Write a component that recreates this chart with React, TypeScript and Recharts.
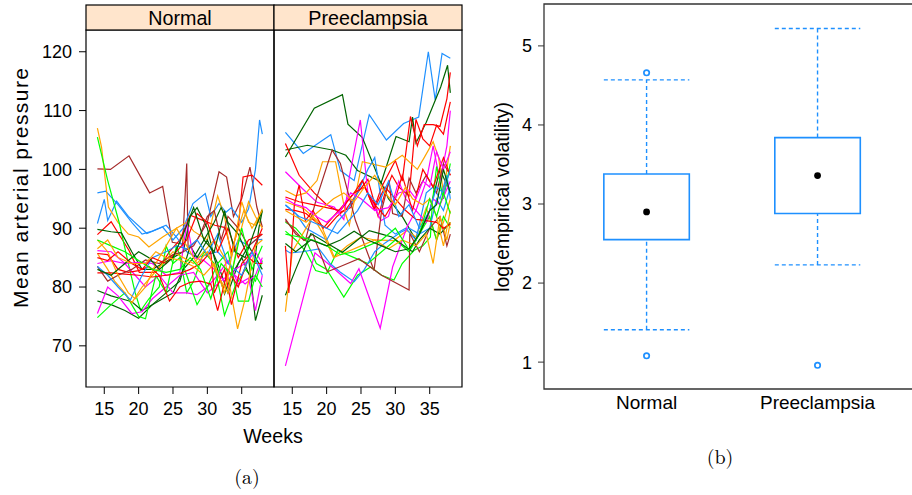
import { ComposedChart, Line, LineChart, ReferenceArea, ReferenceLine, Scatter, XAxis, YAxis } from "recharts";

const BLUE = "#1E90FF";
const ORANGE = "#FFA500";
const GREEN = "#00FF00";
const DKGREEN = "#006400";
const RED = "#FF0000";
const BROWN = "#A52A2A";
const MAGENTA = "#FF00FF";

const panels = ["Normal", "Preeclampsia"];
const weekTicks = [15, 20, 25, 30, 35];
const mapTicks = [70, 80, 90, 100, 110, 120];

// one trajectory per woman: [week, mean arterial pressure]
const normalColors = [BROWN, RED, BLUE, BLUE, ORANGE, GREEN, DKGREEN, DKGREEN, DKGREEN, MAGENTA, MAGENTA, MAGENTA, GREEN, ORANGE, RED, RED, BROWN, BLUE, ORANGE, RED, DKGREEN, GREEN, ORANGE];
const normalSeries: number[][][] = [
  [[14, 100.1], [15.9, 100], [18.6, 102.3], [21.6, 96], [23.5, 97.1], [24.9, 87.6], [26.4, 87.3], [27, 101], [27.2, 86.5], [28.5, 88], [30, 91], [31.7, 99.6], [32.8, 98.7], [33.8, 92], [35, 95], [36.2, 100.4], [37.2, 93.6], [38, 90.2]],
  [[14, 88.9], [16, 91.1], [18.6, 86.2], [20.1, 82.5], [22.5, 82.5], [24.5, 86], [26, 88], [27.5, 92.2], [29, 91.5], [31.1, 90.5], [32.6, 90.1], [33.5, 86], [34.5, 90], [35.2, 98.7], [36.5, 99], [38, 97.3]],
  [[14, 90.8], [15, 94.9], [15.5, 91.3], [16.8, 94.6], [18.5, 92], [21.2, 89.1], [23.5, 90.2], [25, 88], [26.5, 90], [27.9, 94.2], [29.7, 95.9], [30.5, 92], [31.7, 94.2], [32.7, 92.7], [33.5, 93.5], [35, 91], [36, 93.3], [37, 100], [37.6, 108.4], [38, 106]],
  [[14, 96], [15.2, 96.3], [17, 94], [19, 91], [20.5, 89], [22, 89.5], [24, 90.5], [25.5, 88.5], [27, 86], [28.5, 85], [30, 85.5], [31.5, 86], [33, 84], [34.5, 88], [36, 87], [37, 88], [38, 88.1]],
  [[14, 107], [14.6, 103.8], [15.6, 93.6], [17, 91], [18.5, 89], [20, 88.5], [21.5, 86.8], [23.5, 88.5], [25.5, 90], [27, 91], [28, 89.5], [30, 88], [31.5, 95.5], [32.5, 92], [33.5, 85], [35, 94.5], [36, 91], [37, 90.5], [38, 93.3]],
  [[14, 105.5], [15.5, 98.1], [17.2, 90.8], [18.5, 84], [19.5, 79], [20.3, 76], [21.5, 78], [23, 80], [24, 87], [25, 84], [26, 85], [27, 79], [28, 81], [29.5, 86], [31, 84], [32.5, 75.2], [34, 80], [35.5, 83], [37, 81], [38, 84.5]],
  [[14, 89.8], [16, 89.4], [17.5, 89.2], [19, 86], [20.5, 83], [22, 83], [23.5, 84], [25, 85], [26.5, 86], [27.5, 92], [28.5, 93.5], [30, 90], [31, 85], [32.5, 78.8], [33.5, 82], [35, 85], [36.5, 81], [37.5, 90], [38, 93]],
  [[14, 79.4], [16, 78.5], [17.5, 78], [19, 77.5], [20.5, 76], [22, 77], [23.5, 78], [25, 79], [26.5, 83], [28, 85], [29.5, 88], [31, 91], [32, 93.5], [33, 91], [34.5, 89], [36, 85], [37, 74.3], [38, 78.6]],
  [[14, 77.6], [16, 77], [18, 76], [20, 74.7], [22, 77], [24, 79], [26, 81], [27.5, 87], [28.5, 85], [30, 88], [31.5, 84], [33, 79], [34.5, 84], [36, 87], [38, 83]],
  [[14, 86.2], [16, 86], [18, 84], [20, 84.2], [22, 84], [24, 82], [26, 82.5], [27, 91], [28, 85], [29.5, 84.5], [31, 83], [32.5, 81], [34, 82], [35.5, 80.5], [37, 82], [38, 85]],
  [[14, 84], [16, 84.5], [18, 84], [19.5, 82], [21, 80], [23, 82], [25, 79], [27, 79], [28.5, 78.7], [30, 80], [31.5, 82], [33, 84.5], [34.5, 80.5], [36, 81.5], [37, 76], [38, 82]],
  [[14, 75.5], [15.5, 80], [17, 78.5], [19, 75.5], [20.5, 75.8], [22, 78], [24, 80], [26, 82], [28, 82.5], [30, 79], [32, 81], [34, 83], [35.5, 84], [37, 86], [38, 84]],
  [[14, 74.8], [16, 77], [18, 79], [20, 75], [21, 74.6], [22.5, 82], [24, 79], [25.5, 87], [27, 82], [28.5, 77], [30, 80], [31.5, 84], [33, 86], [34.5, 77.6], [36, 77.6], [37, 82], [38, 80]],
  [[14, 85.7], [15.5, 83], [16.5, 81], [18, 79], [19, 77.3], [20.5, 80], [22, 82], [23.5, 84], [25, 86], [26.5, 85], [28, 84], [29.5, 86], [31, 88], [32.5, 85], [34.4, 72.9], [35.5, 78], [37, 87], [38, 88]],
  [[14, 85.7], [15.5, 85.5], [17, 83], [18.5, 82.5], [20, 82.8], [21.5, 83.5], [23, 82], [24.5, 77.6], [26, 80], [27.5, 80.8], [29, 81], [30.5, 80.5], [31.5, 76], [33, 83], [34.5, 80], [36, 85], [37, 84], [38, 84]],
  [[14, 82.4], [16, 82.4], [18, 82.2], [20, 82], [22, 81.7], [24, 82], [26, 82.3], [27.5, 83], [29, 84], [30.5, 86], [31, 79], [32.5, 83], [33.5, 77], [35, 84], [36.5, 86], [38, 90]],
  [[14, 83.5], [15.5, 81], [17, 82], [19, 83], [21, 84.6], [23, 84], [25, 85.5], [26.5, 86], [28, 87], [29, 89], [30, 92], [31, 93], [32, 88], [33, 92], [34.5, 90], [36, 87], [38, 89]],
  [[14, 83.5], [15.5, 82], [17, 80], [18.8, 77.8], [20.5, 82], [22, 85], [24, 86], [25.5, 87], [27, 86.5], [28.5, 88], [30, 85.5], [31.5, 89], [33, 84], [35, 82], [36.5, 86], [38, 82]],
  [[14, 88], [15.5, 86], [17, 82], [18.5, 79], [19.5, 78], [21, 80], [22.5, 84], [24, 87], [25.5, 90], [27, 87], [28.5, 84], [30, 86], [31.5, 82], [33, 79], [34.5, 88], [36, 94.5], [37, 92], [38, 90]],
  [[14, 85], [15.5, 84.5], [17, 86], [19, 84], [20.5, 83], [22, 85], [24, 84], [25.5, 86], [27, 88], [28.5, 92.5], [30, 91], [31.5, 86], [33, 90], [34.5, 85], [36, 88], [38, 89]],
  [[14, 83], [16, 82], [18, 84], [20, 86], [21.5, 85], [23, 83], [25, 85], [26.5, 89], [28, 93.5], [29.5, 88], [31, 86], [32.5, 93], [34, 86], [35.5, 85], [37, 90], [38, 93]],
  [[14, 88], [16, 87], [18, 86], [20, 84.5], [22, 83], [24, 82.5], [26, 83], [27.5, 85], [29, 83], [30.5, 78], [32, 84], [33.5, 82], [35, 90], [36.5, 83], [38, 87]],
  [[14, 86.5], [15.5, 88], [17, 85], [19, 84], [21, 84], [22.5, 86], [24, 85], [26, 84.6], [28, 83.5], [29.5, 82], [31, 84], [32.5, 79], [34, 88], [35.3, 93], [36.5, 90], [38, 93]],
];

const preColors = [BLUE, DKGREEN, DKGREEN, RED, RED, MAGENTA, ORANGE, ORANGE, BLUE, BROWN, GREEN, GREEN, BLUE, MAGENTA, BROWN, DKGREEN, ORANGE, RED, RED, MAGENTA, BLUE, ORANGE, GREEN, DKGREEN];
const preSeries: number[][][] = [
  [[14, 106.3], [16.6, 102.7], [20.6, 105.9], [22, 99.8], [24, 98.1], [26.2, 109.3], [28.7, 105], [31.2, 107.8], [33.4, 108.9], [34.8, 120], [35.8, 111.8], [36.8, 119.7], [38, 118.9]],
  [[14, 102.1], [18.2, 110.4], [22.3, 112.7], [23.1, 107.7], [25.2, 105.4], [27.9, 97.6], [30.1, 105.6], [32, 104.7], [32.5, 108.9], [33, 104.5], [34.5, 108], [36.6, 114], [37.6, 117.7], [38, 113]],
  [[14, 103.3], [17.2, 104.1], [20.8, 103.3], [22.8, 102.4], [24.5, 99.8], [27.9, 97.9], [29, 95], [31, 92], [33, 88], [35, 93], [36.5, 100], [38, 96]],
  [[14, 104.4], [16, 99], [18.2, 96], [20, 94], [22, 92.7], [23.5, 93.5], [25.2, 98.1], [26.9, 93.3], [28, 97], [30, 101.5], [31, 98], [32.2, 109], [33.2, 104], [34.2, 107.6], [35.5, 107.6], [36.5, 107.3], [37.5, 112], [38, 116.5]],
  [[14, 93.2], [15.5, 93], [17, 92.5], [18.5, 91], [20, 90], [21.5, 92], [23, 93.5], [24.5, 96], [26, 98.3], [27.5, 92], [28.5, 96], [29.5, 99], [30.5, 97], [32, 95.5], [33, 108.5], [34, 105.2], [35, 104], [36, 107.5], [37, 106], [38, 111.5]],
  [[14, 99.6], [16.5, 96.7], [18.6, 94.4], [21.1, 93.6], [22.5, 91.5], [23.3, 98.7], [24.9, 108.4], [26, 96], [27.9, 91.3], [29, 92], [30.5, 98], [31.5, 95], [33, 93], [34.5, 98], [35.5, 104], [36.5, 98], [37.5, 104], [38, 110]],
  [[14, 96.4], [15.5, 95.5], [17, 96], [18.6, 98.1], [19.4, 101.3], [21.3, 101.3], [22.8, 92.2], [23.3, 90.5], [25.2, 101.3], [28.6, 100.4], [31, 102.4], [33.2, 100], [34.2, 102], [35.5, 104.7], [36.3, 102], [37, 96], [38, 104]],
  [[14, 94.5], [16.7, 93.3], [19.1, 90.8], [21.1, 85.1], [23, 87], [25, 88.5], [27, 88], [29.8, 87.9], [31.7, 89.6], [33, 88.5], [34.5, 93.5], [36, 88], [37, 91], [38, 95]],
  [[14, 94], [15.5, 92.5], [17, 90], [18.5, 89], [20, 88], [21.5, 91], [23, 93], [24.5, 96], [26, 100], [27, 102], [28.5, 90.5], [30, 89], [31.5, 90], [33, 88], [34.5, 96], [35.5, 97], [36.5, 95], [37.5, 99], [38, 95]],
  [[14, 91.6], [15.5, 89], [16.9, 87.9], [18.5, 95], [20.8, 103.3], [22, 101], [24.2, 91.3], [26.9, 82.8], [28, 93], [29.1, 98.1], [29.6, 92.5], [31, 92], [32, 98.5], [33, 96], [34.5, 99], [36, 96], [37, 101], [38, 99]],
  [[14, 91], [15.5, 90], [17, 88], [18.5, 84], [20, 83], [22.5, 78.3], [24.5, 82], [26.4, 83.4], [28, 82], [29.8, 81.2], [31, 84], [32.7, 86.2], [34, 87], [35.1, 88.5], [35.4, 94.5], [36, 100.5], [37, 95], [38, 101]],
  [[14, 89.5], [15.5, 88], [17, 86], [18.4, 82.8], [20, 82.3], [21.6, 86.2], [24, 85], [26, 84], [28, 86], [30, 88], [32, 86], [33.5, 89], [35, 92], [36, 88], [37, 92], [38, 90]],
  [[14, 86.3], [14.7, 85.8], [16.5, 86], [18.9, 86.5], [20.5, 84], [22, 82.5], [24, 80.9], [25.5, 83], [27, 86], [28.5, 87.5], [30.8, 89.3], [32, 90], [33.5, 89], [35, 90], [36, 95], [37, 93], [38, 97]],
  [[14, 66.6], [18.3, 85.8], [20.8, 83.4], [23.5, 80.6], [24.7, 83.1], [27.8, 73], [29.6, 83.4], [31.7, 90.2], [33, 93], [34.5, 91], [35.5, 95], [36.5, 94], [38, 98]],
  [[14, 91.3], [16.7, 87.9], [18, 89], [20.1, 82.6], [22, 83.5], [24.7, 84.8], [28, 82], [32, 79.5], [32.1, 89.1], [33.5, 86], [35, 90], [36.5, 92], [37.5, 87], [38, 89]],
  [[14, 78.6], [15.5, 83], [17.7, 89.1], [20, 87.5], [22.3, 85.9], [24.5, 88], [26.2, 89.6], [28, 89], [29.5, 88.5], [31.5, 86.8], [32.5, 86], [33.5, 88], [35, 90], [36.5, 89], [38, 91]],
  [[14, 75.8], [15, 86], [16.5, 89], [18, 92], [19.5, 89], [21, 85], [23, 86], [25, 87], [27, 88], [29, 86.5], [31, 88], [33, 87], [34.5, 89], [35.5, 84], [36.5, 92], [37.5, 88], [38, 91]],
  [[14, 87], [14.5, 79], [15.3, 94], [16, 97.3], [16.9, 91.3], [18, 93], [19.5, 90], [21, 92], [22.5, 94], [24, 96], [25.5, 97], [27, 94], [28.5, 92], [30, 95], [31.5, 93], [33, 91.5], [34.5, 91.3], [36, 91], [37, 90], [38, 90.7]],
  [[14, 95.3], [16, 94.5], [18, 94], [20, 93.5], [22, 93], [24, 96], [25.2, 98.1], [26.9, 93.3], [28.5, 97], [30, 95], [31, 99], [32.5, 93], [34, 100], [35.5, 97], [37, 102], [38, 99]],
  [[14, 95], [15.5, 94], [17, 93.5], [18.5, 92], [20, 91], [22, 93], [23.5, 96], [25, 95], [27, 93], [29, 93.5], [30.5, 96], [32, 96.5], [33, 95], [34, 98], [35, 97], [36, 103], [37, 100], [38, 103]],
  [[14, 93.9], [16, 92], [18, 91], [20, 90], [21.6, 89.1], [23, 91], [24.5, 93], [26, 96], [27.5, 94], [29, 98], [30.5, 92], [32, 94], [33.5, 90], [35, 93], [36, 97], [37, 96], [38, 100]],
  [[14, 93], [15.5, 92], [17, 91], [19, 93], [21, 95], [22.5, 96], [24, 94.5], [25.5, 97], [27, 99], [28.5, 96], [30, 94], [31.5, 97], [32.5, 95], [34, 94], [35, 95], [36, 92], [37, 87], [38, 93]],
  [[14, 89], [16, 88.5], [18, 88], [20, 87], [22, 85.5], [24, 86], [26, 87], [28, 88], [30, 90], [32, 86.3], [33.5, 89], [35, 95], [36, 92], [37, 96], [38, 92.5]],
  [[14, 87.4], [15.5, 86], [17.7, 88], [20, 87], [22, 88], [24, 89.5], [26, 88], [28, 87], [30, 86], [32, 86.5], [33.5, 89], [35, 93], [36, 94], [37, 100], [38, 96]],
];

// box plot summary of log(empirical volatility)
const groups = ["Normal", "Preeclampsia"];
const boxQ1 = [2.55, 2.88];
const boxMedian = [2.9, 3.36];
const boxQ3 = [3.38, 3.84];
const whiskerLow = [1.41, 2.23];
const whiskerHigh = [4.57, 5.22];
const outlierGroup = [1, 1, 2];
const outlierValue = [4.66, 1.08, 0.96];
const volTicks = [1, 2, 3, 4, 5];

const W = 912;
const H = 495;
const FONT = "'Liberation Sans', Arial, Helvetica, sans-serif";
const weekDomain = [12.34, 39.7];
const mapDomain = [63, 123.7];
const PANEL_W = 188;

function Panel({ series, colors, left, showY }: { series: number[][][]; colors: string[]; left: number; showY: boolean }) {
  return (
    <div style={{ position: "absolute", left: 0, top: 0 }}>
      <LineChart
        width={W}
        height={H}
        style={{ fontFamily: FONT }}
        margin={{ top: 30, left: showY ? left - 60 : left, right: W - left - PANEL_W, bottom: H - 387 - 30 }}
      >
        <XAxis
          dataKey="w"
          type="number"
          domain={weekDomain}
          allowDataOverflow
          ticks={weekTicks}
          interval={0}
          axisLine={false}
          tickLine={{ stroke: "#000" }}
          tickSize={7}
          tickMargin={8}
          tick={{ fontSize: 18, fill: "#000" }}
        />
        <YAxis
          dataKey="v"
          type="number"
          domain={mapDomain}
          allowDataOverflow
          ticks={mapTicks}
          interval={0}
          hide={!showY}
          width={60}
          axisLine={false}
          tickLine={{ stroke: "#000" }}
          tickSize={7}
          tickMargin={7}
          tick={{ fontSize: 18, fill: "#000" }}
        />
        {series.map((pts, i) => (
          <Line
            key={i}
            data={pts.map(([w, v]) => ({ w, v }))}
            dataKey="v"
            type="linear"
            stroke={colors[i]}
            strokeWidth={1.2}
            dot={false}
            activeDot={false}
            isAnimationActive={false}
          />
        ))}
        <ReferenceArea
          x1={weekDomain[0]}
          x2={weekDomain[1]}
          y1={mapDomain[0]}
          y2={mapDomain[1]}
          fill="none"
          fillOpacity={0}
          stroke="#000"
          strokeWidth={1.2}
          ifOverflow="visible"
        />
      </LineChart>
    </div>
  );
}

const volDomain = [0.66, 5.53];
const groupDomain = [0.4, 2.57];
const HALF = 0.25;

function BoxPanel() {
  const medians = groups.map((_, i) => ({ x: i + 1, y: boxMedian[i] }));
  const outliers = outlierGroup.map((g, i) => ({ x: g, y: outlierValue[i] }));
  return (
    <div style={{ position: "absolute", left: 0, top: 0 }}>
      <ComposedChart
        width={920}
        height={H}
        style={{ fontFamily: FONT }}
        margin={{ top: 4, left: 544 - 60, right: 5, bottom: H - 389 - 30 }}
      >
        <XAxis
          dataKey="x"
          type="number"
          domain={groupDomain}
          allowDataOverflow
          ticks={[1, 2]}
          interval={0}
          tickFormatter={(v: number) => groups[v - 1]}
          axisLine={false}
          tickLine={false}
          tickSize={0}
          tickMargin={7}
          tick={{ fontSize: 19, fill: "#000" }}
        />
        <YAxis
          dataKey="y"
          type="number"
          domain={volDomain}
          allowDataOverflow
          ticks={volTicks}
          interval={0}
          width={60}
          axisLine={false}
          tickLine={{ stroke: "#333" }}
          tickSize={6}
          tickMargin={6}
          tick={{ fontSize: 18, fill: "#000" }}
        />
        <ReferenceArea
          x1={groupDomain[0]}
          x2={groupDomain[1]}
          y1={volDomain[0]}
          y2={volDomain[1]}
          fill="none"
          fillOpacity={0}
          stroke="#333"
          strokeWidth={1.3}
          ifOverflow="visible"
        />
        {groups.map((g, i) => {
          const x = i + 1;
          const dash = { stroke: BLUE, strokeWidth: 1.4, strokeDasharray: "4 3" };
          return [
            <ReferenceLine key={g + "u"} segment={[{ x, y: boxQ3[i] }, { x, y: whiskerHigh[i] }]} {...dash} />,
            <ReferenceLine key={g + "l"} segment={[{ x, y: whiskerLow[i] }, { x, y: boxQ1[i] }]} {...dash} />,
            <ReferenceLine key={g + "uc"} segment={[{ x: x - HALF, y: whiskerHigh[i] }, { x: x + HALF, y: whiskerHigh[i] }]} {...dash} />,
            <ReferenceLine key={g + "lc"} segment={[{ x: x - HALF, y: whiskerLow[i] }, { x: x + HALF, y: whiskerLow[i] }]} {...dash} />,
            <ReferenceArea
              key={g + "b"}
              x1={x - HALF}
              x2={x + HALF}
              y1={boxQ1[i]}
              y2={boxQ3[i]}
              fill="#fff"
              fillOpacity={1}
              stroke={BLUE}
              strokeWidth={1.6}
            />,
          ];
        })}
        <Scatter
          data={medians}
          isAnimationActive={false}
          shape={(p: any) => <circle cx={p.cx} cy={p.cy} r={3.4} fill="#000" />}
        />
        <Scatter
          data={outliers}
          isAnimationActive={false}
          shape={(p: any) => <circle cx={p.cx} cy={p.cy} r={2.7} fill="#fff" stroke={BLUE} strokeWidth={1.7} />}
        />
      </ComposedChart>
    </div>
  );
}

export default function App() {
  return (
    <div style={{ position: "absolute", left: 0, top: 0, width: W, height: H, overflow: "hidden", background: "#fff" }}>
      <Panel series={normalSeries} colors={normalColors} left={86} showY />
      <Panel series={preSeries} colors={preColors} left={274} showY={false} />
      <BoxPanel />
      <svg width={W} height={H} style={{ position: "absolute", left: 0, top: 0, pointerEvents: "none" }}>
        {panels.map((p, i) => (
          <g key={p}>
            <rect x={86 + i * PANEL_W} y={5} width={PANEL_W} height={25} fill="#FFE5CC" stroke="#000" strokeWidth={1.2} />
            <text x={86 + i * PANEL_W + PANEL_W / 2} y={25} textAnchor="middle" fontSize={19.7} fontFamily={FONT}>
              {p}
            </text>
          </g>
        ))}
        <text x={273} y={442.7} textAnchor="middle" fontSize={19.6} fontFamily={FONT}>
          Weeks
        </text>
        <text
          x={27.5}
          y={188}
          textAnchor="middle"
          fontSize={21}
          fontFamily={FONT}
          textLength={240}
          lengthAdjust="spacing"
          transform="rotate(-90 27.5 188)"
        >
          Mean arterial pressure
        </text>
        <text x={509} y={197} textAnchor="middle" fontSize={19.3} fontFamily={FONT} transform="rotate(-90 509 197)">
          log(empirical volatility)
        </text>
        <text x={247} y={484} textAnchor="middle" fontSize={20} fontFamily="'Latin Modern Roman', 'DejaVu Serif', 'Liberation Serif', serif">
          (a)
        </text>
        <text x={720} y={464} textAnchor="middle" fontSize={20} fontFamily="'Latin Modern Roman', 'DejaVu Serif', 'Liberation Serif', serif">
          (b)
        </text>
      </svg>
    </div>
  );
}
